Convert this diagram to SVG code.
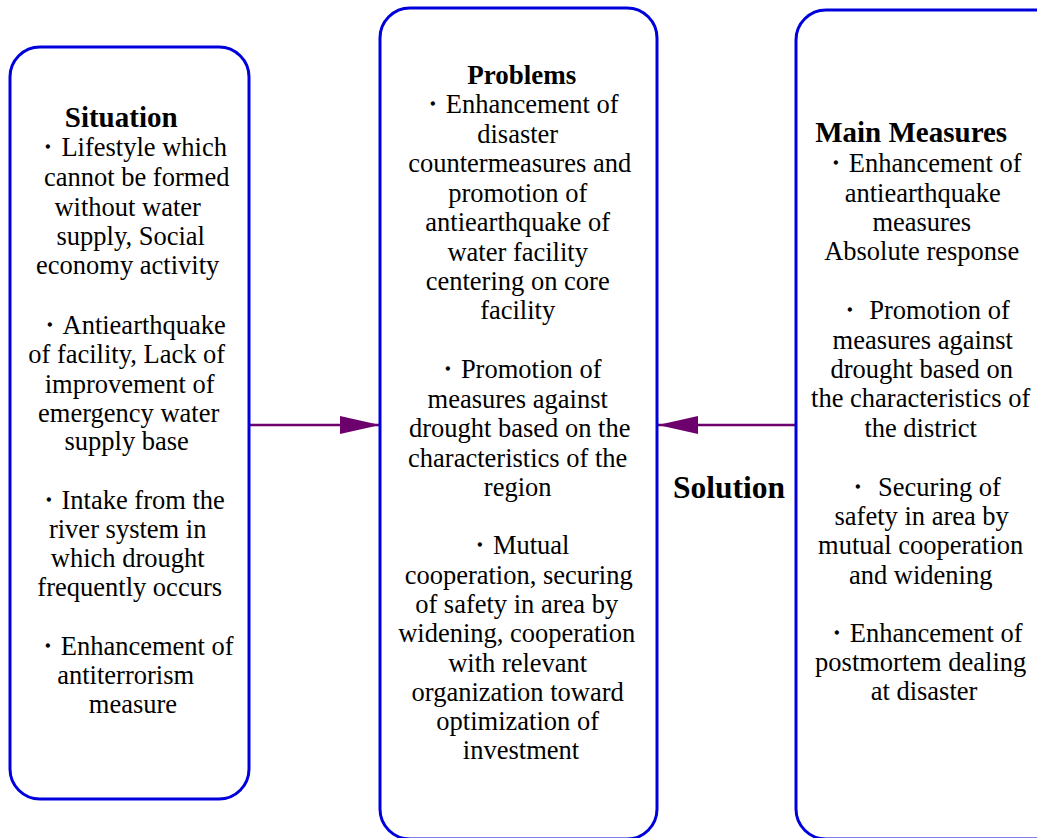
<svg xmlns="http://www.w3.org/2000/svg" width="1037" height="838" viewBox="0 0 1037 838">
<style>
.box{fill:#fff;stroke:#0000dd;stroke-width:3}
.t{font-family:"Liberation Serif","Times New Roman",serif;font-size:26.5px;fill:#000;text-anchor:middle}
.h{font-weight:bold}
.conn{stroke:#6c006c;stroke-width:2.5;fill:none}
</style>
<defs>
<marker id="ah" viewBox="0 0 40 20" refX="40" refY="10" markerWidth="40" markerHeight="20" markerUnits="userSpaceOnUse" orient="auto">
<path d="M0,1 L40,10 L0,19 Z" fill="#6c006c"/>
</marker>
</defs>
<rect width="1037" height="838" fill="#fff"/>
<g id="connectors">
<line class="conn" x1="250" y1="425" x2="380" y2="425" marker-end="url(#ah)"/>
<line class="conn" x1="796" y1="425" x2="658" y2="425" marker-end="url(#ah)"/>
</g>
<g id="situation">
<rect class="box" x="10" y="47" width="239" height="752" rx="30" ry="30"/>
<text class="t"><tspan class="h" x="124.5" y="127" style="font-size:29px">Situation</tspan>
<tspan x="134" y="156">・Lifestyle which</tspan>
<tspan x="140" y="186">cannot be formed</tspan>
<tspan x="131" y="216">without water</tspan>
<tspan x="134" y="245">supply, Social</tspan>
<tspan x="131" y="274">economy activity</tspan>
<tspan x="134" y="334">・Antiearthquake</tspan>
<tspan x="130" y="363">of facility, Lack of</tspan>
<tspan x="133" y="393">improvement of</tspan>
<tspan x="132" y="422">emergency water</tspan>
<tspan x="130" y="450">supply base</tspan>
<tspan x="133" y="509">・Intake from the</tspan>
<tspan x="131" y="538">river system in</tspan>
<tspan x="131" y="567">which drought</tspan>
<tspan x="133" y="596">frequently occurs</tspan>
<tspan x="137" y="655">・Enhancement of</tspan>
<tspan x="129" y="684">antiterrorism</tspan>
<tspan x="133" y="713">measure</tspan></text>
</g>
<g id="problems">
<rect class="box" x="380" y="8" width="277" height="831" rx="30" ry="30"/>
<text class="t"><tspan class="h" x="525" y="84" style="font-size:27px">Problems</tspan>
<tspan x="522" y="113">・Enhancement of</tspan>
<tspan x="521" y="143">disaster</tspan>
<tspan x="523" y="172">countermeasures and</tspan>
<tspan x="521" y="202">promotion of</tspan>
<tspan x="521" y="231">antiearthquake of</tspan>
<tspan x="521" y="261">water facility</tspan>
<tspan x="521" y="290">centering on core</tspan>
<tspan x="521" y="319">facility</tspan>
<tspan x="521" y="378">・Promotion of</tspan>
<tspan x="521" y="408">measures against</tspan>
<tspan x="523" y="437">drought based on the</tspan>
<tspan x="521" y="467">characteristics of the</tspan>
<tspan x="521" y="496">region</tspan>
<tspan x="521" y="554">・Mutual</tspan>
<tspan x="522" y="584">cooperation, securing</tspan>
<tspan x="520" y="613">of safety in area by</tspan>
<tspan x="520" y="642">widening, cooperation</tspan>
<tspan x="521" y="672">with relevant</tspan>
<tspan x="521" y="701">organization toward</tspan>
<tspan x="521" y="730">optimization of</tspan>
<tspan x="521" y="759">investment</tspan></text>
</g>
<g id="solution-label">
<text class="t h" x="729" y="498" style="font-size:31.5px">Solution</text>
</g>
<g id="measures">
<rect class="box" x="796" y="10" width="270" height="829" rx="30" ry="30"/>
<text class="t"><tspan class="h" x="914.5" y="142" style="font-size:29px">Main Measures</tspan>
<tspan x="925" y="172">・Enhancement of</tspan>
<tspan x="926" y="202">antiearthquake</tspan>
<tspan x="925" y="231">measures</tspan>
<tspan x="925" y="260">Absolute response</tspan>
<tspan x="926" y="319">・ Promotion of</tspan>
<tspan x="926" y="349">measures against</tspan>
<tspan x="925" y="378">drought based on</tspan>
<tspan x="924" y="407">the characteristics of</tspan>
<tspan x="924" y="437">the district</tspan>
<tspan x="926" y="496">・ Securing of</tspan>
<tspan x="925" y="525">safety in area by</tspan>
<tspan x="924" y="554">mutual cooperation</tspan>
<tspan x="924" y="584">and widening</tspan>
<tspan x="926" y="642">・Enhancement of</tspan>
<tspan x="924" y="671">postmortem dealing</tspan>
<tspan x="924" y="700">at disaster</tspan></text>
</g>
</svg>
